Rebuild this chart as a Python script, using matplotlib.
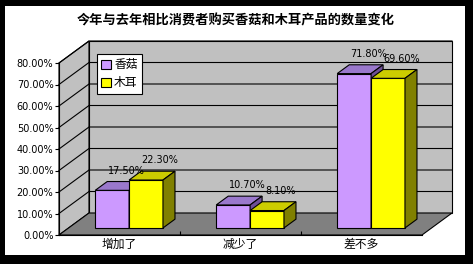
import matplotlib
matplotlib.use('Agg')
import matplotlib.pyplot as plt
from matplotlib.patches import Polygon, Rectangle, Patch
from matplotlib.transforms import IdentityTransform

plt.rcParams['font.family'] = ['Noto Sans CJK SC', 'DejaVu Sans']

title = '今年与去年相比消费者购买香菇和木耳产品的数量变化'
categories = ['增加了', '减少了', '差不多']
series_names = ['香菇', '木耳']
xianggu = [17.5, 10.7, 71.8]
muer = [22.3, 8.1, 69.6]
yticks = [0, 10, 20, 30, 40, 50, 60, 70, 80]

# face, top, side colours per series
purple = ('#cc99ff', '#9a78cc', '#6e4f96')
yellow = ('#ffff00', '#cccc00', '#808000')

W, H = 473, 264
fig = plt.figure(figsize=(W / 100, H / 100), dpi=100, facecolor='black')
fig.patches.append(Rectangle((5, 9), 460, 249, transform=IdentityTransform(),
                             facecolor='white', edgecolor='none', zorder=-10))

ax = fig.add_axes([59 / W, (H - 235) / H, 363 / W, 172 / H])
ax.set_xlim(0, 3)
ax.set_ylim(0, 80)
ax.patch.set_visible(False)

# depth of the 3d box in pixels
DX, DY = 30, 22
ID = IdentityTransform()


def proj(x, v, d):
    p = ax.transData.transform((x, v))
    return (p[0] + d * DX, p[1] + d * DY)


def face(pts, color, z):
    ax.add_patch(Polygon(pts, closed=True, facecolor=color, edgecolor='black',
                         linewidth=0.8, transform=ID, clip_on=False, zorder=z))


top = yticks[-1]
face([proj(0, 0, 0), proj(0, top, 0), proj(0, top, 1), proj(0, 0, 1)], '#c0c0c0', 1)
face([proj(0, 0, 1), proj(3, 0, 1), proj(3, top, 1), proj(0, top, 1)], '#c0c0c0', 1)
face([proj(0, 0, 0), proj(3, 0, 0), proj(3, 0, 1), proj(0, 0, 1)], '#808080', 1)

for v in yticks[1:]:
    pts = [proj(0, v, 0), proj(0, v, 1), proj(3, v, 1)]
    ax.plot([p[0] for p in pts], [p[1] for p in pts], color='black', lw=0.8,
            transform=ID, clip_on=False, zorder=1.5)

# bars
w = 0.28
d0, d1 = 0.32, 0.72
z = 3
for i in range(len(categories)):
    for j, (vals, cols) in enumerate([(xianggu, purple), (muer, yellow)]):
        v = vals[i]
        x0 = i + 0.5 - w + j * w
        x1 = x0 + w
        face([proj(x0, 0, d0), proj(x1, 0, d0), proj(x1, v, d0), proj(x0, v, d0)], cols[0], z)
        face([proj(x0, v, d0), proj(x1, v, d0), proj(x1, v, d1), proj(x0, v, d1)], cols[1], z)
        face([proj(x1, 0, d0), proj(x1, 0, d1), proj(x1, v, d1), proj(x1, v, d0)], cols[2], z)
        z += 0.1
        px, py = proj((x0 + x1) / 2, v, d1)
        ax.text(px + 2, py + 6, '%.2f%%' % v, transform=ID, ha='center', va='bottom',
                fontsize=7, family='DejaVu Sans', zorder=6)

ax.spines['top'].set_visible(False)
ax.spines['right'].set_visible(False)
ax.spines['left'].set_linewidth(0.8)
ax.spines['bottom'].set_linewidth(0.8)
ax.spines['left'].set_zorder(2)
ax.spines['bottom'].set_zorder(2)

ax.set_yticks(yticks)
ax.set_yticklabels(['%.2f%%' % t for t in yticks], family='DejaVu Sans', fontsize=7)
ax.tick_params(axis='y', direction='out', length=3, width=0.8, pad=1)
ax.set_xticks([0.5, 1.5, 2.5])
ax.set_xticklabels(categories, fontsize=8.5)
ax.tick_params(axis='x', length=0, pad=2)
ax.set_xticks([1, 2], minor=True)
ax.tick_params(axis='x', which='minor', direction='in', length=3, width=0.8)

handles = [Patch(facecolor=c[0], edgecolor='black', linewidth=0.8, label=n)
           for n, c in zip(series_names, [purple, yellow])]
leg = fig.legend(handles=handles, loc='upper left', bbox_to_anchor=(97 / W, 1 - 54 / H),
                 frameon=True, fancybox=False, edgecolor='black', framealpha=1,
                 borderpad=0.35, handlelength=0.8, handleheight=0.8, handletextpad=0.3,
                 labelspacing=0.45, borderaxespad=0, prop={'size': 8.5})
leg.get_frame().set_linewidth(0.8)
leg.set_zorder(10)

fig.text(236 / W, 1 - 20 / H, title, ha='center', va='center', fontsize=9.5, weight='bold')

fig.savefig('out.png', dpi=100, facecolor='black')
